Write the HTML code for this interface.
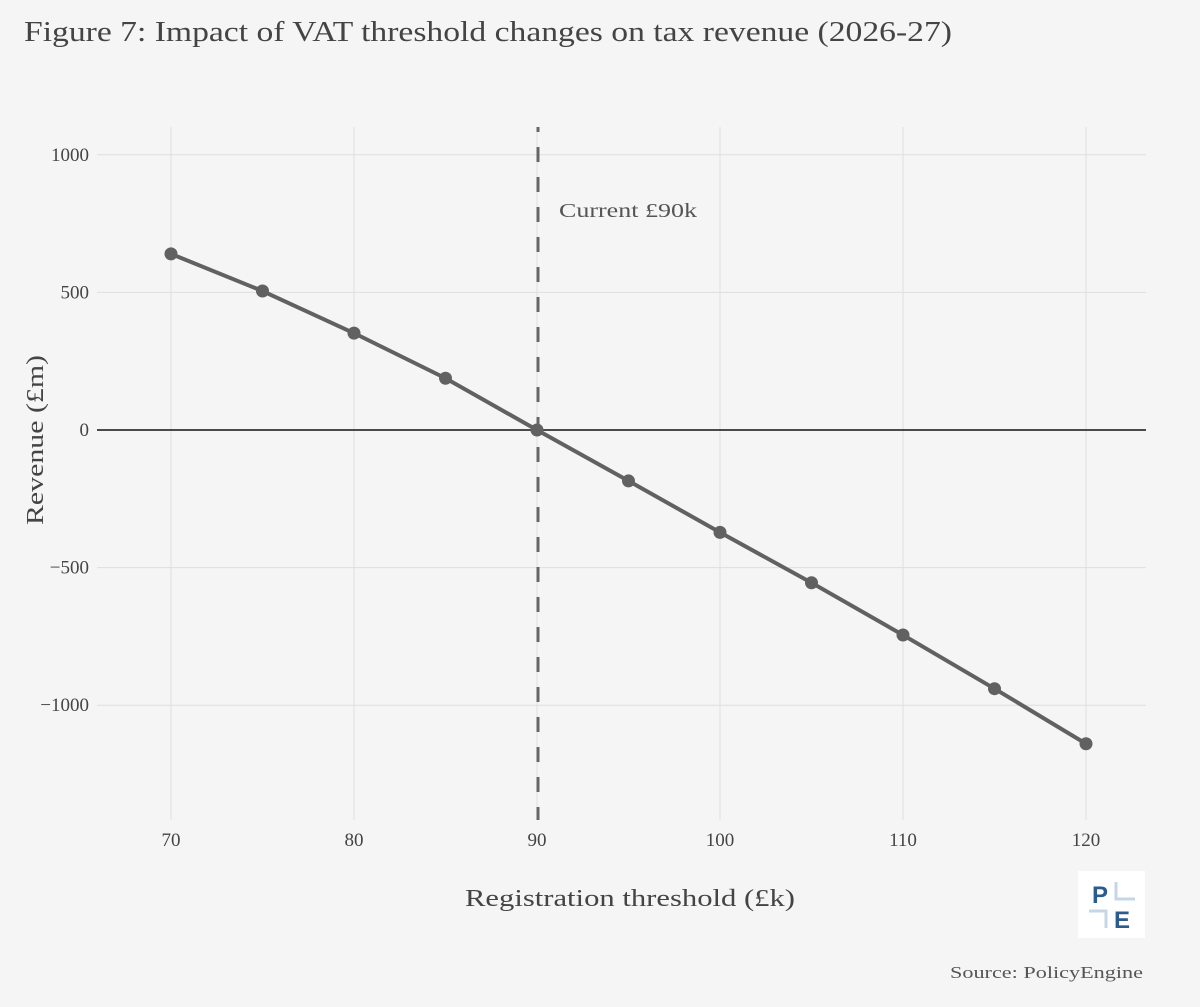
<!DOCTYPE html>
<html><head><meta charset="utf-8"><style>
body{margin:0;background:#f5f5f5;}
svg{display:block;font-family:"Liberation Serif",serif;}
</style></head><body>
<svg id="chart" width="1200" height="1007">
<rect width="1200" height="1007" fill="#f5f5f5"/>
<text x="24" y="41" font-size="28" fill="#444" textLength="928" lengthAdjust="spacingAndGlyphs">Figure 7: Impact of VAT threshold changes on tax revenue (2026-27)</text>
<g id="grid"></g>
<g id="marks"></g>
<text x="43" y="440" font-size="24" fill="#444" text-anchor="middle" textLength="170" lengthAdjust="spacingAndGlyphs" transform="rotate(-90 43 440)">Revenue (£m)</text>
<text x="465" y="906" font-size="24" fill="#444" textLength="330" lengthAdjust="spacingAndGlyphs">Registration threshold (£k)</text>
<g>
<rect x="1078" y="871" width="67" height="67" fill="#fff"/>
<text x="1092" y="903" font-family="Liberation Sans,sans-serif" font-weight="bold" font-size="24" fill="#2c5b8e">P</text>
<text x="1114" y="928" font-family="Liberation Sans,sans-serif" font-weight="bold" font-size="24" fill="#2c5b8e">E</text>
<path d="M1116 882 V899 H1135 M1089 911 H1106 V928" stroke="#c5d6e6" stroke-width="3" fill="none"/>
</g>
<text x="950" y="978" font-size="17" fill="#555" textLength="193" lengthAdjust="spacingAndGlyphs">Source: PolicyEngine</text>
</svg>
<script>
const xValues=[70,75,80,85,90,95,100,105,110,115,120];
const revenue=[640,505,352,188,0,-185,-372,-555,-745,-940,-1140];
const xTicks=[70,80,90,100,110,120];
const yTicks=[1000,500,0,-500,-1000];
const yTickLabels=["1000","500","0","−500","−1000"];
const currentThreshold=90;
const NS="http://www.w3.org/2000/svg";
const sx=v=>171+(v-70)*18.3;
const sy=v=>430-v*0.2752;
function mk(p,tag,a){const e=document.createElementNS(NS,tag);for(const k in a)e.setAttribute(k,a[k]);p.appendChild(e);return e;}
const grid=document.getElementById('grid'),marks=document.getElementById('marks');
xTicks.forEach(t=>{
 const l=mk(grid,'line',{x1:sx(t),x2:sx(t),y1:127,y2:820,stroke:'#dedede','stroke-width':1});
 
 
 const tx=mk(grid,'text',{x:sx(t),y:846,'font-size':19,fill:'#444','text-anchor':'middle'});
 tx.textContent=t;
 
 
});
yTicks.forEach((t,i)=>{
 const l=mk(grid,'line',{x1:97,x2:1146,y1:sy(t),y2:sy(t),stroke:t===0?'#111':'#dedede','stroke-width':t===0?1.5:1});
 
 
 const tx=mk(grid,'text',{x:89,y:sy(t)+6,'font-size':19,fill:'#444','text-anchor':'end'});
 tx.textContent=yTickLabels[i];
 
 
});
const vl=mk(marks,'line',{x1:sx(currentThreshold)+1,x2:sx(currentThreshold)+1,y1:127,y2:820,stroke:'#666','stroke-width':3,'stroke-dasharray':'15 15','stroke-dashoffset':10});


const lab=mk(marks,'text',{x:sx(currentThreshold)+22,y:217,'font-size':20,fill:'#555',textLength:138,lengthAdjust:'spacingAndGlyphs'});
lab.textContent='Current £90k';


const line=mk(marks,'polyline',{points:xValues.map((x,i)=>sx(x)+','+sy(revenue[i])).join(' '),fill:'none',stroke:'#616161','stroke-width':4,'stroke-linejoin':'round'});


xValues.forEach((x,i)=>{
 const c=mk(marks,'circle',{cx:sx(x),cy:sy(revenue[i]),r:6.5,fill:'#616161'});
 
 
});
</script>
</body></html>
